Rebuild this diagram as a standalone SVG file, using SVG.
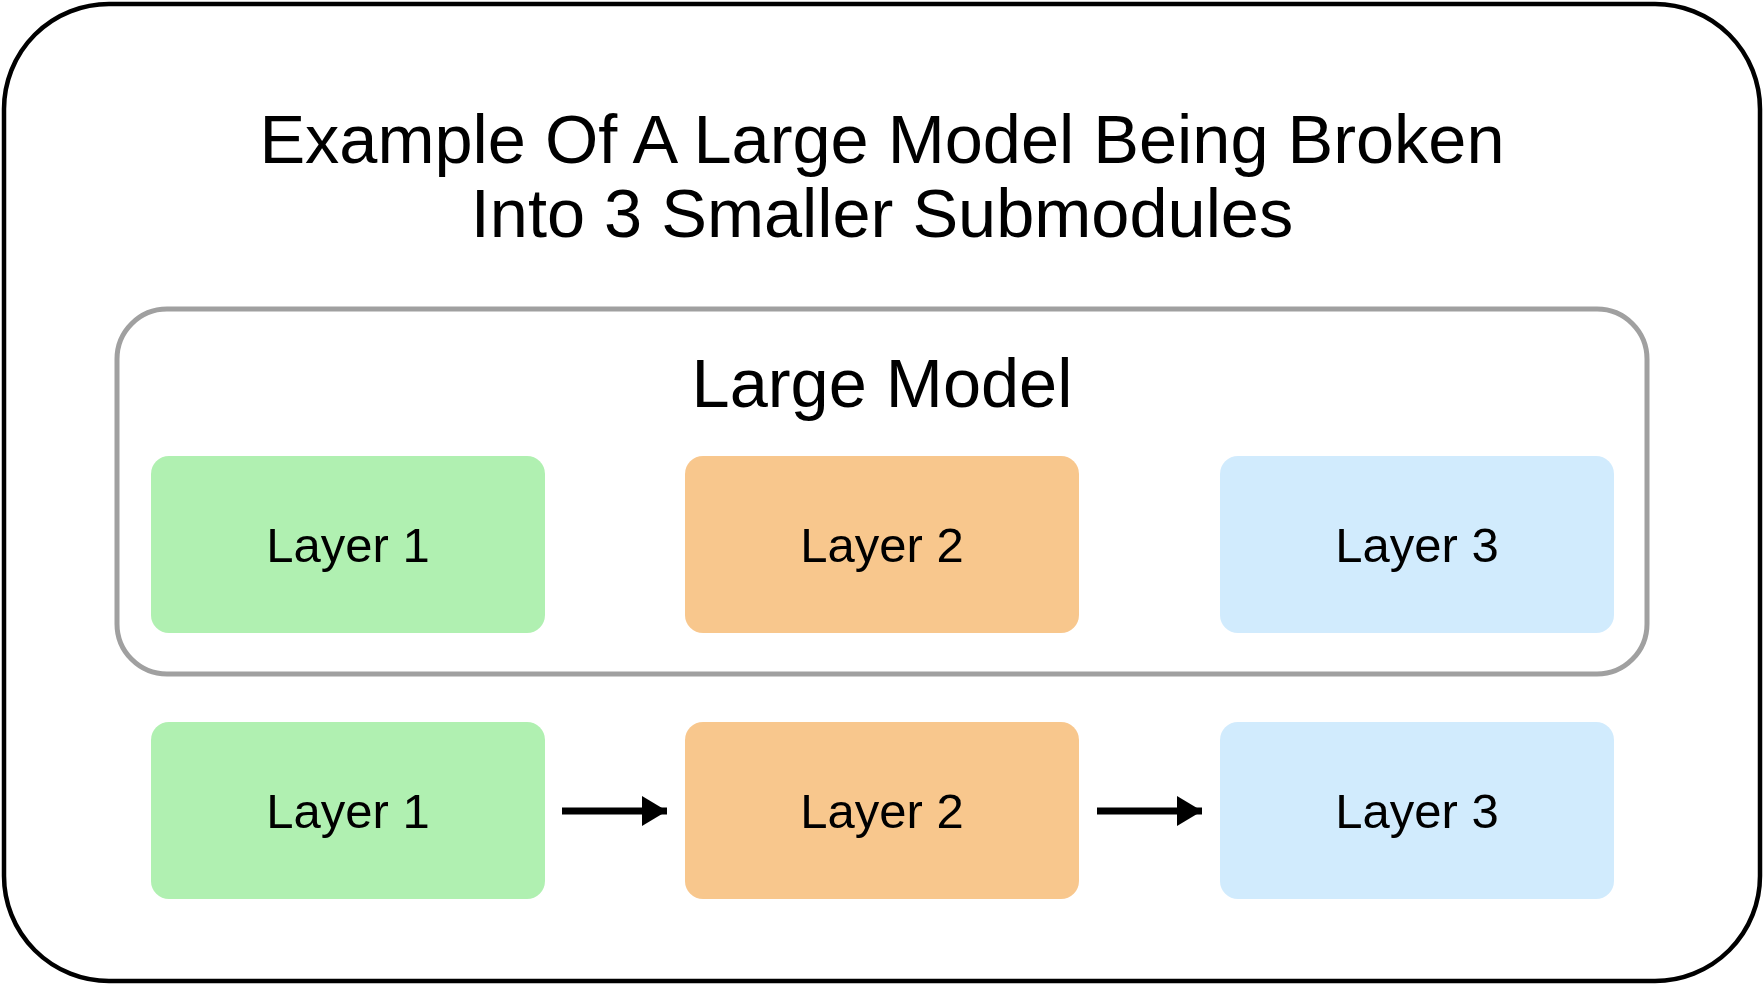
<svg xmlns="http://www.w3.org/2000/svg" width="1764" height="985" viewBox="0 0 1764 985">
<style>
.t{font-family:"Liberation Sans",Arial,Helvetica,sans-serif;fill:#000;text-anchor:middle}
.title{font-size:68.5px}
.lbl{font-size:49px}
.l1{fill:#b0f0b1}
.l2{fill:#f8c78d}
.l3{fill:#d1ebfd}
.conn{stroke:#000;stroke-width:7;fill:none}
</style>
<defs>
<marker id="arr" markerUnits="userSpaceOnUse" markerWidth="26" markerHeight="30" refX="25" refY="15" orient="auto">
<path d="M0,0 L25,15 L0,30 Z" fill="#000"/>
</marker>
</defs>
<rect width="1764" height="985" fill="#fff"/>
<g id="outer">
<rect x="4" y="4" width="1756" height="977" rx="105" ry="105" fill="#fff" stroke="#000" stroke-width="4.5"/>
<text class="t title" x="882" y="163">Example Of A Large Model Being Broken</text>
<text class="t title" x="882" y="237">Into 3 Smaller Submodules</text>
</g>
<g id="large-model">
<rect x="117" y="309" width="1530" height="365" rx="50" ry="50" fill="#fff" stroke="#a0a0a0" stroke-width="5"/>
<text class="t title" x="882" y="407">Large Model</text>
</g>
<g id="lm-layer1"><rect class="l1" x="151" y="456" width="394" height="177" rx="18"/><text class="t lbl" x="348" y="562">Layer 1</text></g>
<g id="lm-layer2"><rect class="l2" x="685" y="456" width="394" height="177" rx="18"/><text class="t lbl" x="882" y="562">Layer 2</text></g>
<g id="lm-layer3"><rect class="l3" x="1220" y="456" width="394" height="177" rx="18"/><text class="t lbl" x="1417" y="562">Layer 3</text></g>
<g id="sub-layer1"><rect class="l1" x="151" y="722" width="394" height="177" rx="18"/><text class="t lbl" x="348" y="828">Layer 1</text></g>
<g id="sub-layer2"><rect class="l2" x="685" y="722" width="394" height="177" rx="18"/><text class="t lbl" x="882" y="828">Layer 2</text></g>
<g id="sub-layer3"><rect class="l3" x="1220" y="722" width="394" height="177" rx="18"/><text class="t lbl" x="1417" y="828">Layer 3</text></g>
<g id="connectors">
<line class="conn" x1="562" y1="811" x2="667" y2="811" marker-end="url(#arr)"/>
<line class="conn" x1="1097" y1="811" x2="1202" y2="811" marker-end="url(#arr)"/>
</g>
</svg>
